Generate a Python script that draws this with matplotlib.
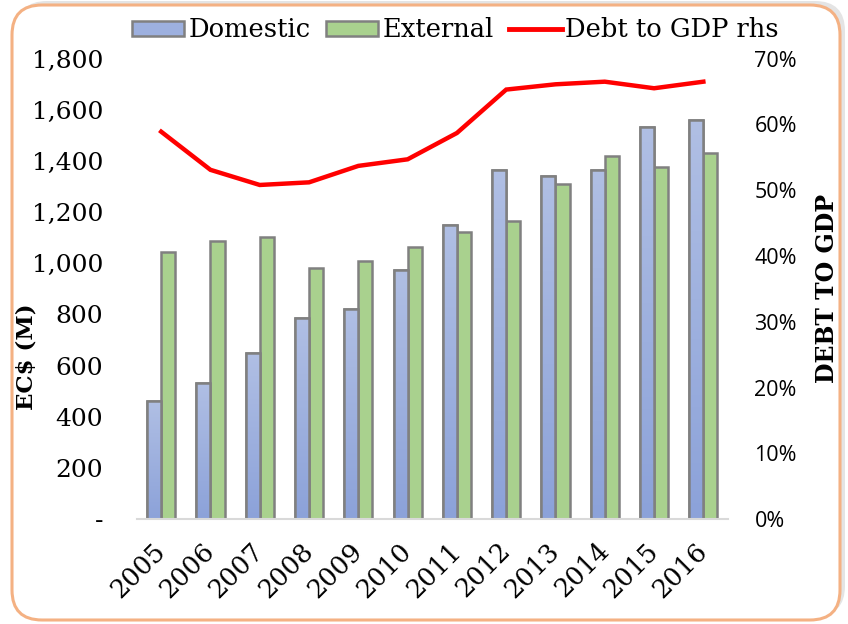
import numpy as np
import matplotlib
matplotlib.use('Agg')
import matplotlib.pyplot as plt
from matplotlib.patches import FancyBboxPatch
from matplotlib.lines import Line2D
from matplotlib.patches import Patch
from matplotlib.ticker import FuncFormatter, PercentFormatter

# ── data (EC$ millions, debt to GDP ratio) ───────────────────
years = ['2005', '2006', '2007', '2008', '2009', '2010',
         '2011', '2012', '2013', '2014', '2015', '2016']
domestic = [462, 534, 650, 787, 821, 973, 1149, 1364, 1342, 1364, 1534, 1560]
external = [1045, 1088, 1101, 982, 1008, 1065, 1123, 1166, 1312, 1420, 1377, 1430]
debt_gdp = [0.589, 0.531, 0.508, 0.512, 0.537, 0.547,
            0.587, 0.653, 0.661, 0.665, 0.655, 0.665]

SERIF = 'DejaVu Serif'
BLUE_TOP, BLUE_BOT = '#B0BFE4', '#8CA2D9'
GREEN = '#A9D18E'
EDGE = '#808080'

fig = plt.figure(figsize=(8.48, 6.24), dpi=100)

# ── rounded frame in pixel coords ────────────────────────────
bg = fig.add_axes([0, 0, 1, 1], zorder=-5)
bg.set_xlim(0, 848)
bg.set_ylim(624, 0)
bg.axis('off')
bg.add_patch(FancyBboxPatch((17, 1), 828, 615,
                            boxstyle='round,pad=0,rounding_size=30',
                            fc='#D9D9D9', ec='none', alpha=0.7))
bg.add_patch(FancyBboxPatch((12, 5), 828, 615,
                            boxstyle='round,pad=0,rounding_size=30',
                            fc='white', ec='#F4B183', lw=2.2))

# ── bars ─────────────────────────────────────────────────────
ax = fig.add_axes([0.161, 0.168, 0.6975, 0.738])
ax.set_facecolor('none')
x = np.arange(len(years))
w = 0.285

dom_bars = ax.bar(x - w / 2, domestic, w, color=BLUE_BOT,
                  edgecolor=EDGE, linewidth=1.8, zorder=2)
ax.bar(x + w / 2, external, w, color=GREEN,
       edgecolor=EDGE, linewidth=1.8, zorder=2)

# vertical gradient on the domestic bars
grad = np.linspace(0, 1, 100).reshape(-1, 1)
cmap = matplotlib.colors.LinearSegmentedColormap.from_list('b', [BLUE_BOT, BLUE_TOP])
for b in dom_bars:
    x0, h = b.get_x(), b.get_height()
    im = ax.imshow(grad, cmap=cmap, origin='lower', aspect='auto',
                   extent=[x0, x0 + w, 0, h], zorder=2.1)
    im.set_clip_path(b)
    ax.bar(x0 + w / 2, h, w, color='none', edgecolor=EDGE,
           linewidth=1.8, zorder=2.2)

ax.set_xlim(-0.5, len(years) - 0.5)
ax.set_ylim(0, 1800)
ax.set_yticks(np.arange(0, 1801, 200))
ax.yaxis.set_major_formatter(FuncFormatter(lambda v, p: '-' if v == 0 else f'{v:,.0f}'))
for s in ['top', 'right', 'left']:
    ax.spines[s].set_visible(False)
ax.spines['bottom'].set_color('#D9D9D9')
ax.spines['bottom'].set_linewidth(1.5)
ax.tick_params(axis='y', length=0, pad=24, labelsize=18, labelcolor='black')
ax.tick_params(axis='x', length=0, pad=20)
for t in ax.get_yticklabels():
    t.set_fontfamily(SERIF)
ax.set_xticks(x)
ax.set_xticklabels(years, rotation=45, ha='right', va='center',
                   rotation_mode='anchor', fontsize=18.5, fontfamily=SERIF)

ax.set_ylabel('EC\\$ (M)', fontfamily=SERIF, fontweight='bold', fontsize=16.5)
ax.yaxis.set_label_coords(-0.167, 0.352)

# ── debt to GDP line (right axis) ────────────────────────────
ax2 = ax.twinx()
ax2.set_facecolor('none')
ax2.plot(x, debt_gdp, color='#FF0000', lw=3.2, solid_joinstyle='miter', zorder=3)
ax2.set_ylim(0, 0.7)
ax2.set_yticks(np.arange(0, 0.71, 0.1))
ax2.yaxis.set_major_formatter(PercentFormatter(1.0, decimals=0))
for s in ['top', 'right', 'left', 'bottom']:
    ax2.spines[s].set_visible(False)
ax2.tick_params(axis='y', length=0, pad=19, labelsize=15.5)
for t in ax2.get_yticklabels():
    t.set_fontfamily('Open Sans')
ax2.set_ylabel('DEBT TO GDP', fontfamily=SERIF, fontweight='bold', fontsize=17)
ax2.yaxis.set_label_coords(1.147, 0.5)

# ── legend ───────────────────────────────────────────────────
handles = [Patch(facecolor='#9DB0DF', edgecolor=EDGE, linewidth=1.8),
           Patch(facecolor=GREEN, edgecolor=EDGE, linewidth=1.8),
           Line2D([0], [0], color='#FF0000', lw=3.5)]
fig.legend(handles, ['Domestic', 'External', 'Debt to GDP rhs'],
           loc='center', bbox_to_anchor=(0.537, 0.952), ncol=3, frameon=False,
           prop={'family': SERIF, 'size': 18.5}, handlelength=2.05,
           handleheight=0.5, handletextpad=0.15, columnspacing=0.6,
           borderaxespad=0, borderpad=0)

fig.savefig('out.png', dpi=100)
